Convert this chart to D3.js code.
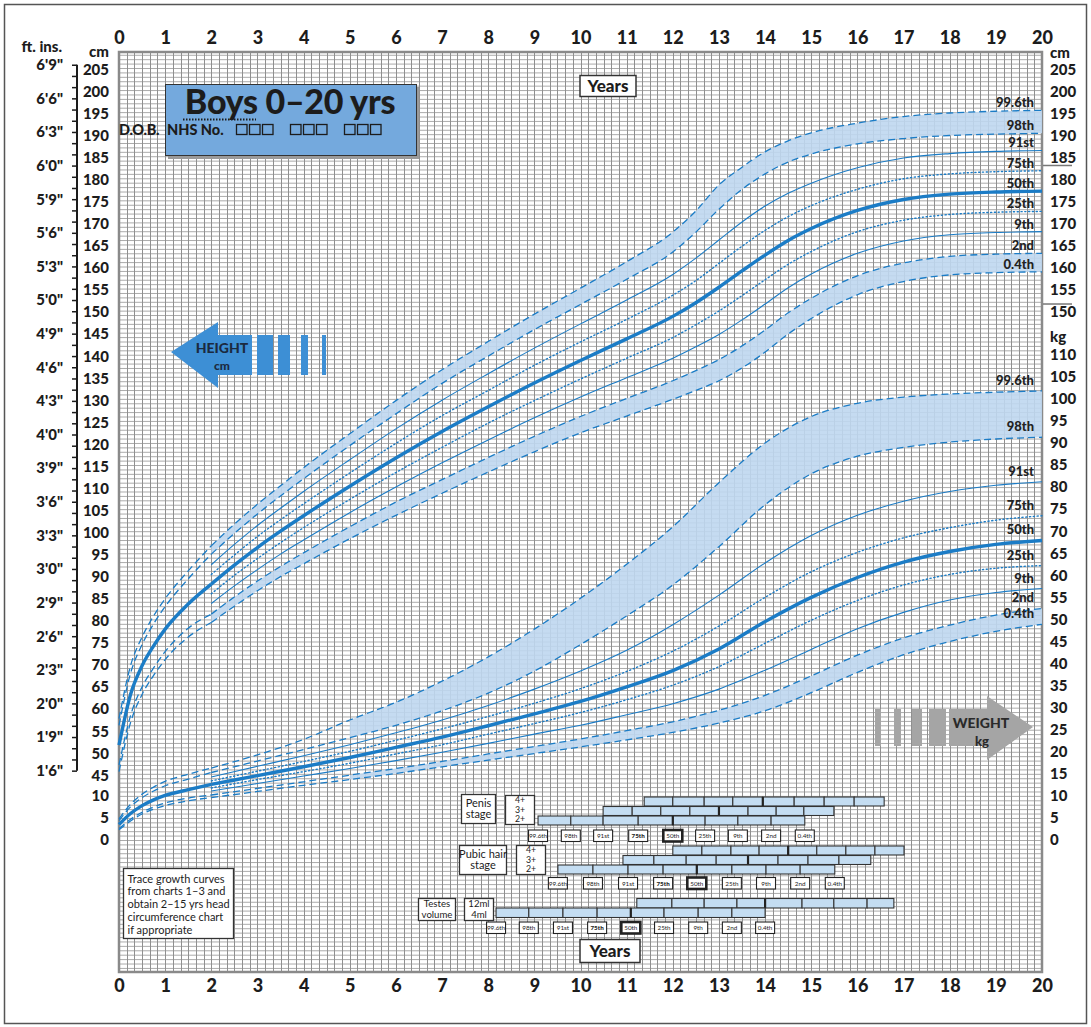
<!DOCTYPE html>
<html><head><meta charset="utf-8">
<script src="https://cdn.jsdelivr.net/npm/d3@7"></script>
<style>
body{margin:0;background:#fff}
svg{display:block}
text{font-family:Lato,"Open Sans","DejaVu Sans",sans-serif}
</style></head>
<body><svg id="c" width="1091" height="1027"></svg>
<script>
// ---------------- DATA ----------------
const yearTicks = [0,1,2,3,4,5,6,7,8,9,10,11,12,13,14,15,16,17,18,19,20];
const cmTicksLeft = [205,200,195,190,185,180,175,170,165,160,155,150,145,140,135,130,125,120,115,110,105,100,95,90,85,80,75,70,65,60,55,50,45];
const kgTicksLeft = [10,5,0];
const cmTicksRight = [205,200,195,190,185,180,175,170,165,160,155,150];
const kgTicksRight = [110,105,100,95,90,85,80,75,70,65,60,55,50,45,40,35,30,25,20,15,10,5,0];
const ftLabels = ["1'6\"","1'9\"","2'0\"","2'3\"","2'6\"","2'9\"","3'0\"","3'3\"","3'6\"","3'9\"","4'0\"","4'3\"","4'6\"","4'9\"","5'0\"","5'3\"","5'6\"","5'9\"","6'0\"","6'3\"","6'6\"","6'9\""];
const ftLabelInches = [18,21,24,27,30,33,36,39,42,45,48,51,54,57,60,63,66,69,72,75,78,81];
const centileNames = ["0.4th","2nd","9th","25th","50th","75th","91st","98th","99.6th"];

// Infant height 0-2 yrs (cm)
const infAges = [0,0.25,0.5,0.75,1,1.5,2];
const infH_004 = [45.5,56.6,63.0,67.3,70.9,76.0,79.3];
const infH_02  = [47.0,58.2,64.7,69.0,72.7,78.0,81.2];
const infH_50  = [51.5,63.0,69.5,74.0,77.8,83.5,88.0];
const infH_98  = [56.0,67.8,74.3,79.0,82.9,89.2,94.8];
const infH_996 = [57.5,69.5,76.0,80.8,84.7,91.0,96.7];

// Height 2-20 yrs (cm)
const hAges = [2,2.5,3,3.5,4,5,6,7,8,9,10,11,12,12.5,13,13.5,14,14.5,15,16,17,18,19,20];
const h_004 = [79.3,83.0,86.5,89.7,92.6,98.3,103.6,108.6,113.4,118.0,122.3,126.1,129.9,131.9,134.1,137.0,140.6,144.7,148.2,153.6,156.6,158.1,158.6,158.8];
const h_02  = [81.2,85.1,88.7,92.0,95.1,101.0,106.6,111.7,116.7,121.5,126.0,130.1,134.1,136.4,138.9,142.0,145.6,149.5,152.8,157.9,160.8,162.3,162.8,163.0];
const h_09  = [83.6,87.6,91.3,94.8,98.0,104.2,110.0,115.5,120.7,125.7,130.4,134.8,139.2,141.8,144.6,147.9,151.5,155.2,158.3,163.0,165.8,167.2,167.7,167.9];
const h_25  = [85.8,90.0,93.8,97.4,100.8,107.2,113.3,119.0,124.5,129.6,134.5,139.2,143.9,146.8,149.9,153.4,157.0,160.5,163.4,167.9,170.5,171.8,172.3,172.5];
const h_50  = [88.0,92.3,96.3,100.0,103.5,110.2,116.6,122.6,128.2,133.6,138.7,143.6,148.7,151.8,155.3,159.0,162.6,165.9,168.6,172.7,175.2,176.4,176.9,177.1];
const h_75  = [90.2,94.6,98.8,102.6,106.2,113.2,119.9,126.2,131.9,137.6,142.9,148.0,153.5,156.8,160.7,164.6,168.2,171.3,173.8,177.5,179.9,181.0,181.5,181.7];
const h_91  = [92.4,97.0,101.3,105.2,109.0,116.2,123.2,129.7,135.7,141.5,147.0,152.4,158.2,161.9,166.0,170.1,173.7,176.6,178.9,182.4,184.6,185.6,186.1,186.3];
const h_98  = [94.8,99.5,103.9,108.0,111.9,119.4,126.6,133.5,139.7,145.7,151.4,157.1,163.3,167.8,173.0,177.5,181.0,183.7,185.5,187.8,189.0,189.7,190.0,190.2];
const h_996 = [96.7,101.6,106.1,110.3,114.4,122.1,129.6,136.6,143.0,149.2,155.1,161.1,167.8,172.6,178.5,182.5,186.0,188.5,190.3,192.5,194.0,194.8,195.2,195.4];

// Infant weight 0-2 yrs (kg)
const infW_004 = [2.3,4.3,5.9,7.0,7.8,8.9,9.6];
const infW_02  = [2.6,4.7,6.3,7.5,8.4,9.5,10.2];
const infW_50  = [3.5,6.0,7.8,9.1,10.1,11.4,12.6];
const infW_98  = [4.4,7.5,9.6,11.1,12.3,13.8,15.3];
const infW_996 = [4.8,8.1,10.4,12.0,13.3,14.9,16.3];

// Weight 2-20 yrs (kg)
const wAges = [2,3,4,5,6,7,8,9,10,11,12,13,14,15,16,17,18,19,20];
const w_004 = [9.6,11.0,12.4,13.7,15.1,16.6,18.1,19.6,21.1,22.7,24.4,26.5,29.3,33.4,38.0,42.0,45.0,47.3,48.9];
const w_02  = [10.2,11.7,13.2,14.7,16.2,17.8,19.5,21.2,22.9,24.8,26.8,29.4,32.8,37.2,41.9,45.8,48.7,51.0,52.5];
const w_09  = [11.1,12.8,14.5,16.2,18.0,19.9,21.9,24.0,26.0,28.4,30.9,34.2,38.5,43.2,47.9,51.6,54.4,56.1,57.0];
const w_25  = [11.8,13.7,15.5,17.4,19.5,21.6,24.0,26.4,28.9,31.8,35.1,39.3,44.6,49.8,54.3,57.8,60.2,61.6,62.2];
const w_50  = [12.6,14.6,16.6,18.7,21.0,23.3,25.9,28.6,31.4,34.7,38.4,43.3,49.5,55.0,59.5,63.0,65.4,67.0,67.9];
const w_75  = [13.4,15.6,17.8,20.1,22.6,25.2,28.0,31.0,34.3,38.2,42.8,48.5,55.0,60.8,65.2,68.5,70.8,72.5,73.5];
const w_91  = [14.3,16.7,19.1,21.6,24.3,27.2,30.5,34.2,38.3,43.0,48.8,55.5,62.8,69.0,73.6,76.8,79.0,80.4,81.2];
const w_98  = [15.3,17.9,20.5,23.2,26.0,29.3,33.3,38.3,44.3,50.8,57.8,66.5,76.0,83.0,87.0,89.0,90.2,90.9,91.3];
const w_996 = [16.3,19.3,22.8,27.2,31.2,36.0,41.5,47.8,54.8,62.5,71.0,81.0,90.0,96.0,99.0,100.4,101.1,101.5,101.8];

// Puberty staging (ages at 99.6th,98th,91st,75th,50th,25th,9th,2nd,0.4th)
const stageLabels = ["99.6th","98th","91st","75th","50th","25th","9th","2nd","0.4th"];
const penis4 = [11.38,12.00,12.68,13.30,13.95,14.63,15.28,15.93,16.58];
const penis3 = [10.49,11.12,11.74,12.37,13.00,13.63,14.24,14.84,15.49];
const penis2 = [9.08,9.79,10.49,11.25,12.00,12.70,13.41,14.13,14.86];
const pubic4 = [12.00,12.63,13.26,13.87,14.50,15.12,15.75,16.38,17.01];
const pubic3 = [10.92,11.59,12.29,12.94,13.63,14.28,14.93,15.60,16.29];
const pubic2 = [9.51,10.27,11.03,11.79,12.52,13.28,14.02,14.76,15.51];
const testes12 = [11.22,11.98,12.68,13.39,14.00,14.80,15.49,16.21,16.79];
const testes4 = [8.17,8.88,9.62,10.36,11.09,11.81,12.55,13.28,14.00];

// ---------------- DRAW ----------------
const svg = d3.select("#c");
const BLUE = "#1b7cc6", BAND = "#bfd7ef", GRID_V = "#8f8f8f", GRID_H = "#ababab", INK = "#1c1c1c";
const FONT_B = "Lato, sans-serif";
const x = d3.scaleLinear().domain([0,20]).range([119,1042]);
const yW = d3.scaleLinear().domain([0,175]).range([840,68]);   // kg
const yH = d3.scaleLinear().domain([30,205]).range([840,68]);  // cm
const yIn = d3.scaleLinear().domain([30/2.54,205/2.54]).range([840,68]); // inches
const TOP = 52, BOT = 972;

// outer frame
svg.append("rect").attr("x",4.5).attr("y",4.5).attr("width",1082).attr("height",1019)
  .attr("fill","#fff").attr("stroke","#555").attr("stroke-width",1.5);

// grid
const g = svg.append("g");
const uMin = Math.ceil(yW.invert(BOT)), uMax = Math.floor(yW.invert(TOP));
g.selectAll("line.h").data(d3.range(uMin, uMax+1)).join("line")
  .attr("x1",x(0)).attr("x2",x(20)).attr("y1",d=>yW(d)+0.5).attr("y2",d=>yW(d)+0.5)
  .attr("stroke",GRID_H).attr("stroke-width",1);
g.selectAll("line.v").data(d3.range(0,121)).join("line")
  .attr("x1",d=>Math.round(x(d/6))+0.5).attr("x2",d=>Math.round(x(d/6))+0.5).attr("y1",TOP).attr("y2",BOT)
  .attr("stroke",GRID_V).attr("stroke-width",1);
svg.append("rect").attr("x",x(0)).attr("y",TOP).attr("width",x(20)-x(0)).attr("height",BOT-TOP)
  .attr("fill","none").attr("stroke","#8a8a8a").attr("stroke-width",2.5);

function styleAxisText(sel, fs){
  sel.selectAll("text").attr("font-size",fs).attr("font-weight",900).attr("fill",INK).attr("font-family",FONT_B);
}
// year axes
function yearAxis(axis, ty){
  const a = svg.append("g").attr("transform",`translate(0,${ty})`).call(axis.tickValues(yearTicks).tickSize(0).tickPadding(0));
  a.select(".domain").remove();
  styleAxisText(a, 18);
}
yearAxis(d3.axisTop(x), 44);
yearAxis(d3.axisBottom(x), 979);

// left cm axis
const la = svg.append("g").attr("transform","translate(109,1.5)")
  .call(d3.axisLeft(yH).tickValues(cmTicksLeft).tickSize(0).tickPadding(0));
la.select(".domain").remove(); styleAxisText(la, 15);
const lk = svg.append("g").attr("transform","translate(109,0)")
  .call(d3.axisLeft(yW).tickValues(kgTicksLeft).tickSize(0).tickPadding(0));
lk.select(".domain").remove(); styleAxisText(lk, 15);
svg.append("text").attr("x",109).attr("y",57).attr("text-anchor","end").attr("font-size",15).attr("font-weight",900).attr("fill",INK).text("cm");

// ft/in axis
const fa = svg.append("g").attr("transform","translate(77,0)")
  .call(d3.axisLeft(yIn).tickValues(d3.range(18,82)).tickSize(5).tickPadding(9)
    .tickFormat(d=>{const i=ftLabelInches.indexOf(d);return i>=0?ftLabels[i]:"";}));
fa.select(".domain").attr("stroke",INK).attr("stroke-width",2).attr("d",`M0,${yIn(18)}V${yIn(81)}`);
fa.selectAll("line").attr("stroke",INK).attr("stroke-width",1.5);
styleAxisText(fa, 15);
svg.append("text").attr("x",62).attr("y",52).attr("text-anchor","end").attr("font-size",15).attr("font-weight",900).attr("fill",INK).text("ft. ins.");

// right axes
const ra = svg.append("g").attr("transform","translate(1050,1.5)")
  .call(d3.axisRight(yH).tickValues(cmTicksRight).tickSize(0).tickPadding(0));
ra.select(".domain").remove(); styleAxisText(ra, 15);
const rk = svg.append("g").attr("transform","translate(1050,0)")
  .call(d3.axisRight(yW).tickValues(kgTicksRight).tickSize(0).tickPadding(0));
rk.select(".domain").remove(); styleAxisText(rk, 15);
svg.append("text").attr("x",1050).attr("y",58).attr("font-size",15).attr("font-weight",900).attr("fill",INK).text("cm");
svg.append("text").attr("x",1050).attr("y",342).attr("font-size",15).attr("font-weight",900).attr("fill",INK).text("kg");
[182.9,151.5].forEach(h=>svg.append("line").attr("x1",1043).attr("x2",1072).attr("y1",yH(h)).attr("y2",yH(h)).attr("stroke","#777").attr("stroke-width",1.5));

// centile curves
const STY = {
  "0.4th":{w:1.3,d:"7,4"}, "2nd":{w:1.3,d:"7,4"}, "9th":{w:1.1,d:null}, "25th":{w:1.4,d:"1.2,2.6"},
  "50th":{w:3.4,d:null}, "75th":{w:1.4,d:"1.2,2.6"}, "91st":{w:1.1,d:null}, "98th":{w:1.3,d:"7,4"}, "99.6th":{w:1.3,d:"7,4"}
};
const curves = svg.append("g");
function band(ages, lo, hi, ys, fromAge){
  const pts = ages.map((a,i)=>({a,lo:lo[i],hi:hi[i]})).filter(p=>p.a>=fromAge);
  curves.append("path").datum(pts)
    .attr("d",d3.area().x(p=>x(p.a)).y0(p=>ys(p.lo)).y1(p=>ys(p.hi)).curve(d3.curveMonotoneX))
    .attr("fill",BAND).attr("opacity",0.9);
}
function curve(ages, vals, ys, name, fromAge){
  const pts = ages.map((a,i)=>[a,vals[i]]).filter(p=>p[0]>=fromAge);
  const s = STY[name];
  curves.append("path").datum(pts)
    .attr("d",d3.line().x(p=>x(p[0])).y(p=>ys(p[1])).curve(d3.curveMonotoneX))
    .attr("fill","none").attr("stroke",BLUE).attr("stroke-width",s.w)
    .attr("stroke-dasharray",s.d).attr("stroke-linecap",s.d && s.d.startsWith("1.2")?"round":"butt");
}
// height
band(hAges,h_004,h_02,yH,2); band(hAges,h_98,h_996,yH,2);
const hSeries = [h_004,h_02,h_09,h_25,h_50,h_75,h_91,h_98,h_996];
hSeries.forEach((s,i)=>curve(hAges,s,yH,centileNames[i],2));
const infH = [[infH_004,"0.4th"],[infH_02,"2nd"],[infH_50,"50th"],[infH_98,"98th"],[infH_996,"99.6th"]];
infH.forEach(([s,n])=>curve(infAges,s,yH,n,0));
// weight
band(wAges,w_004,w_02,yW,5); band(wAges,w_98,w_996,yW,5);
const wSeries = [w_004,w_02,w_09,w_25,w_50,w_75,w_91,w_98,w_996];
wSeries.forEach((s,i)=>curve(wAges,s,yW,centileNames[i],2));
const infW = [[infW_004,"0.4th"],[infW_02,"2nd"],[infW_50,"50th"],[infW_98,"98th"],[infW_996,"99.6th"]];
infW.forEach(([s,n])=>curve(infAges,s,yW,n,0));

// centile labels
hSeries.forEach((s,i)=>svg.append("text").attr("x",1034).attr("y",yH(s[s.length-1])-3)
  .attr("text-anchor","end").attr("font-size",13).attr("font-weight",900).attr("fill","#222").text(centileNames[i]));
wSeries.forEach((s,i)=>svg.append("text").attr("x",1034).attr("y",yW(s[s.length-1])-6)
  .attr("text-anchor","end").attr("font-size",13).attr("font-weight",900).attr("fill","#222").text(centileNames[i]));

// title box
svg.append("rect").attr("x",168).attr("y",87).attr("width",251).attr("height",72).attr("fill","#9a9a9a");
svg.append("rect").attr("x",165.5).attr("y",84.5).attr("width",251).attr("height",71).attr("fill","#74a9dd").attr("stroke","#333").attr("stroke-width",1);
svg.append("text").attr("x",290).attr("y",114).attr("text-anchor","middle").attr("font-size",34).attr("font-weight",900).attr("fill",INK).attr("letter-spacing",-0.3).text("Boys 0–20 yrs");
svg.append("line").attr("x1",183).attr("x2",256).attr("y1",119.5).attr("y2",119.5).attr("stroke",INK).attr("stroke-width",2).attr("stroke-dasharray","1.5,1.5");
svg.append("text").attr("x",119).attr("y",134.5).attr("font-size",14.5).attr("font-weight",900).attr("fill",INK).attr("letter-spacing",-0.3).text("D.O.B.");
svg.append("text").attr("x",167).attr("y",134.5).attr("font-size",14.5).attr("font-weight",900).attr("fill",INK).text("NHS No.");
[236,290,344].forEach(gx=>{for(let k=0;k<3;k++) svg.append("rect").attr("x",gx+k*13+0.5).attr("y",124.5).attr("width",10.5).attr("height",10).attr("fill","none").attr("stroke",INK).attr("stroke-width",1.3);});

// Years boxes
function yearsBox(cx,cy,w,h){
  svg.append("rect").attr("x",cx-w/2).attr("y",cy-h/2).attr("width",w).attr("height",h).attr("fill","#fff").attr("stroke","#333").attr("stroke-width",1.5);
  svg.append("text").attr("x",cx).attr("y",cy+6).attr("text-anchor","middle").attr("font-size",17).attr("font-weight",900).attr("fill",INK).text("Years");
}
yearsBox(608,86,56,21); yearsBox(610,951,60,23);

// Height arrow
const ha = svg.append("g");
ha.append("path").attr("d","M171,352 L218,322 L218,335 L252,335 L252,375 L218,375 L218,388 Z").attr("fill","#3d8fd5");
[[257,16],[278,12],[301,7],[322,4]].forEach(([bx,bw])=>ha.append("rect").attr("x",bx).attr("y",335).attr("width",bw).attr("height",40).attr("fill","#3d8fd5"));
ha.append("text").attr("x",222).attr("y",353).attr("text-anchor","middle").attr("font-size",14).attr("font-weight",900).attr("fill","#1b2a40").text("HEIGHT");
ha.append("text").attr("x",222).attr("y",370).attr("text-anchor","middle").attr("font-size",12).attr("font-weight",900).attr("fill","#1b2a40").text("cm");
// Weight arrow
const wa = svg.append("g");
wa.append("path").attr("d","M949,709 L987,709 L987,696 L1033,727 L987,760 L987,746 L949,746 Z").attr("fill","#a5a5a5");
[[875,6],[894,7],[912,10],[929,17]].forEach(([bx,bw])=>wa.append("rect").attr("x",bx).attr("y",709).attr("width",bw).attr("height",37).attr("fill","#a5a5a5"));
wa.append("text").attr("x",981).attr("y",728).attr("text-anchor","middle").attr("font-size",14).attr("font-weight",900).attr("fill","#2a2a2a").text("WEIGHT");
wa.append("text").attr("x",982).attr("y",746).attr("text-anchor","middle").attr("font-size",13).attr("font-weight",900).attr("fill","#2a2a2a").text("kg");

// Trace box
svg.append("rect").attr("x",123.5).attr("y",868.5).attr("width",110).attr("height",70).attr("fill","#fff").attr("stroke","#333").attr("stroke-width",1.3);
["Trace growth curves","from charts 1–3 and","obtain  2–15 yrs head","circumference chart","if appropriate"].forEach((t,i)=>
  svg.append("text").attr("x",127.5).attr("y",882.5+i*12.8).attr("font-size",11).attr("fill",INK).text(t));

// Puberty staging
function textBox(x0,y0,w,h,lines,fs,lh){
  svg.append("rect").attr("x",x0+0.5).attr("y",y0+0.5).attr("width",w).attr("height",h).attr("fill","#fff").attr("stroke","#333").attr("stroke-width",1.3);
  lines.forEach((t,i)=>svg.append("text").attr("x",x0+w/2+0.5).attr("y",y0+h/2+fs*0.36+(i-(lines.length-1)/2)*lh).attr("text-anchor","middle").attr("font-size",fs).attr("fill",INK).text(t));
}
function stageRow(ages, top, h){
  const r = svg.append("g");
  for(let i=0;i<ages.length-1;i++){
    r.append("rect").attr("x",x(ages[i])).attr("y",top).attr("width",x(ages[i+1])-x(ages[i])).attr("height",h)
      .attr("fill","#c4ddf2").attr("stroke","#333").attr("stroke-width",1.1);
  }
  r.append("line").attr("x1",x(ages[4])).attr("x2",x(ages[4])).attr("y1",top).attr("y2",top+h).attr("stroke","#222").attr("stroke-width",2.2);
}
function labelRow(ages, top){
  ages.forEach((a,i)=>{
    const cx = x(a);
    svg.append("rect").attr("x",cx-9.5).attr("y",top).attr("width",19).attr("height",11.5).attr("fill","#fff")
      .attr("stroke","#222").attr("stroke-width",i===4?2.6:1.1);
    svg.append("text").attr("x",cx).attr("y",top+8.2).attr("text-anchor","middle").attr("font-size",6.3)
      .attr("font-weight",i===3?900:400).attr("fill","#222").text(stageLabels[i]);
  });
}
textBox(461,794,34,29,["Penis","stage"],11,11);
textBox(505,795,29,29,["4+","3+","2+"],8.8,9.4);
stageRow(penis4,797,9); stageRow(penis3,806.5,9); stageRow(penis2,816,9);
labelRow(penis2,830);
textBox(459,845,47,29,["Pubic hair","stage"],11,11);
textBox(516,845,29,29,["4+","3+","2+"],8.8,9.4);
stageRow(pubic4,846,9); stageRow(pubic3,855.5,9); stageRow(pubic2,865,9);
labelRow(pubic2,877.5);
textBox(418,898,37,22,["Testes","volume"],9.6,10.2);
textBox(464,898,29,22,["12ml","4ml"],9.6,10.2);
stageRow(testes12,898.5,9.5); stageRow(testes4,908,9.5);
labelRow(testes4,922);
</script>
</body></html>
